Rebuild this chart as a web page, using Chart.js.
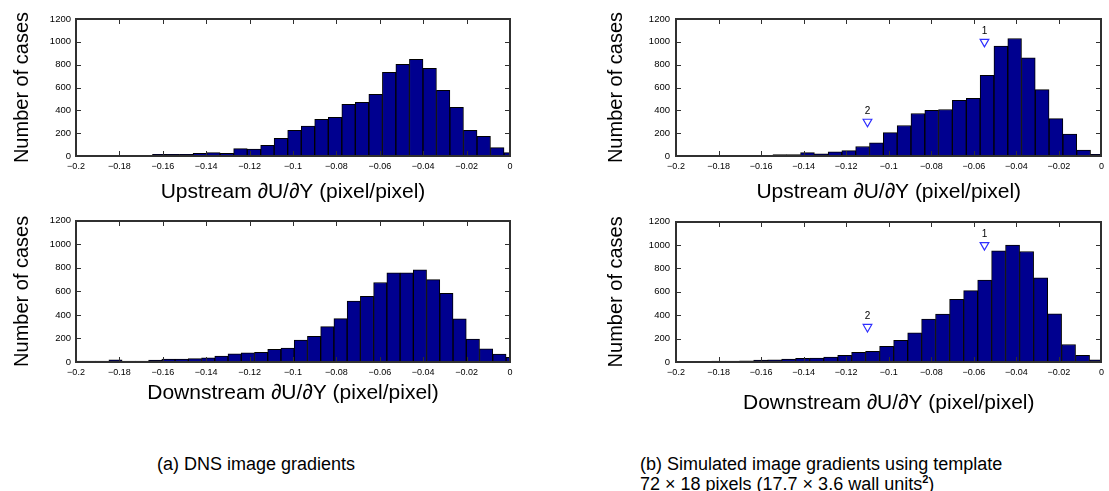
<!DOCTYPE html>
<html>
<head>
<meta charset="utf-8">
<script src="https://cdn.jsdelivr.net/npm/chart.js@4.4.1/dist/chart.umd.min.js"></script>
<style>
  html, body { margin:0; padding:0; background:#fff; width:1109px; height:491px; overflow:hidden; }
  canvas { position:absolute; }
  .cap { position:absolute; font-family:"Liberation Sans", Arial, sans-serif; font-size:18px; color:#000; white-space:nowrap; line-height:20px; }
  sup { font-size:11px; font-weight:bold; line-height:0; }
</style>
</head>
<body>
<canvas id="c1" width="560" height="210" style="left:0;top:0"></canvas>
<canvas id="c2" width="560" height="220" style="left:0;top:210px"></canvas>
<canvas id="c3" width="549" height="210" style="left:560px;top:0"></canvas>
<canvas id="c4" width="549" height="220" style="left:560px;top:210px"></canvas>
<div class="cap" style="left:157px;top:454px">(a) DNS image gradients</div>
<div class="cap" style="left:640px;top:454px">(b) Simulated image gradients using template<br>72 × 18 pixels (17.7 × 3.6 wall units<sup>2</sup>)</div>
<script>
// ---- data ----
const xTicks = [-0.2, -0.18, -0.16, -0.14, -0.12, -0.1, -0.08, -0.06, -0.04, -0.02, 0];
const xTickLabels = ['\u22120.2','\u22120.18','\u22120.16','\u22120.14','\u22120.12','\u22120.1','\u22120.08','\u22120.06','\u22120.04','\u22120.02','0'];
const yTicks = [0, 200, 400, 600, 800, 1000, 1200];
const yTickLabels = ['0','200','400','600','800','1000','1200'];

// (a) DNS, upstream
const dnsUpCenters = [-0.1990,-0.1928,-0.1866,-0.1803,-0.1741,-0.1679,-0.1616,-0.1554,-0.1492,-0.1429,-0.1367,-0.1305,-0.1242,-0.1180,-0.1118,-0.1056,-0.0993,-0.0931,-0.0869,-0.0806,-0.0744,-0.0682,-0.0619,-0.0557,-0.0495,-0.0432,-0.0370,-0.0308,-0.0246,-0.0183,-0.0121,-0.0059,0.0004];
const dnsUpCounts = [4,3,5,3,2,3,15,15,15,23,29,23,64,61,93,155,225,263,321,339,453,470,540,733,803,847,768,575,426,225,172,73,29];

// (a) DNS, downstream
const dnsDownCenters = [-0.2000,-0.1940,-0.1879,-0.1818,-0.1757,-0.1696,-0.1635,-0.1574,-0.1513,-0.1452,-0.1391,-0.1330,-0.1269,-0.1208,-0.1147,-0.1086,-0.1025,-0.0964,-0.0903,-0.0842,-0.0781,-0.0720,-0.0659,-0.0598,-0.0537,-0.0476,-0.0415,-0.0354,-0.0293,-0.0232,-0.0171,-0.0110,-0.0049,0.0013];
const dnsDownCounts = [8,8,8,19,8,8,17,25,25,28,36,50,69,78,83,108,119,186,217,300,369,517,558,675,758,758,783,700,583,367,194,111,67,39];

// (b) simulated, upstream
const simUpCenters = [-0.1966,-0.1901,-0.1836,-0.1771,-0.1706,-0.1642,-0.1577,-0.1512,-0.1447,-0.1382,-0.1317,-0.1253,-0.1188,-0.1123,-0.1058,-0.0993,-0.0928,-0.0863,-0.0798,-0.0734,-0.0668,-0.0603,-0.0538,-0.0473,-0.0408,-0.0344,-0.0279,-0.0214,-0.0149,-0.0084,-0.0019];
const simUpCounts = [3,3,3,3,3,4,4,12,13,30,20,37,47,83,115,205,267,372,401,407,488,506,706,962,1029,860,581,328,192,52,15];

// (b) simulated, downstream
const simDownCenters = [-0.1997,-0.1931,-0.1865,-0.1799,-0.1734,-0.1668,-0.1602,-0.1536,-0.1471,-0.1405,-0.1339,-0.1273,-0.1207,-0.1142,-0.1076,-0.1010,-0.0944,-0.0878,-0.0813,-0.0747,-0.0681,-0.0615,-0.0549,-0.0484,-0.0418,-0.0352,-0.0286,-0.0220,-0.0155,-0.0089,-0.0023];
const simDownCounts = [3,3,5,8,8,11,17,18,25,32,34,42,57,83,92,134,185,250,368,410,535,610,700,950,1000,945,720,412,150,58,18];

// markers in (b)
const markerX = [-0.055, -0.11];
const markerY = [1000, 300];
const markerLabels = ['1', '2'];

// ---- drawing ----
Chart.defaults.font.family = '"Liberation Sans", Arial, sans-serif';
Chart.defaults.color = '#000';

const framePlugin = {
  id: 'matlabFrame',
  afterDraw(chart) {
    const ctx = chart.ctx;
    const a = chart.chartArea;
    const xs = chart.scales.x, ys = chart.scales.y;
    const L = Math.round(a.left), R = Math.round(a.right), T = Math.round(a.top), B = Math.round(a.bottom);
    ctx.save();
    ctx.fillStyle = 'rgb(48,48,48)';
    // axes box
    ctx.fillRect(L - 1, T - 1, R - L + 2, 2);
    ctx.fillRect(L - 1, B - 1, R - L + 2, 2);
    ctx.fillRect(L - 1, T - 1, 2, B - T + 2);
    ctx.fillRect(R - 1, T - 1, 2, B - T + 2);
    // inward tick marks
    xTicks.forEach(v => {
      const px = Math.round(xs.getPixelForValue(v));
      ctx.fillRect(px, B - 5, 1, 4);
      ctx.fillRect(px, T + 1, 1, 4);
    });
    yTicks.forEach(v => {
      const py = Math.round(ys.getPixelForValue(v));
      ctx.fillRect(L + 1, py, 4, 1);
      ctx.fillRect(R - 5, py, 4, 1);
    });
    // marker labels
    chart.data.datasets.forEach((ds, di) => {
      if (ds.type !== 'scatter') return;
      const meta = chart.getDatasetMeta(di);
      ctx.fillStyle = '#000';
      ctx.font = '10px "Liberation Sans", Arial, sans-serif';
      ctx.textAlign = 'center';
      ctx.textBaseline = 'middle';
      meta.data.forEach((pt, i) => ctx.fillText(ds.labels[i], pt.x, pt.y - 11));
    });
    ctx.restore();
  }
};

function makePanel(id, centers, counts, cfg) {
  const datasets = [{
    type: 'bar',
    data: centers.map((c, i) => ({x: c, y: counts[i]})),
    backgroundColor: '#00008F',
    borderColor: '#000',
    borderWidth: 1,
    borderSkipped: 'start',
    barThickness: 'flex',
    barPercentage: 1,
    categoryPercentage: 1,
    clip: 0
  }];
  if (cfg.markers) {
    datasets.push({
      type: 'scatter',
      data: markerX.map((mx, i) => ({x: mx, y: markerY[i]})),
      labels: markerLabels,
      pointStyle: 'triangle',
      rotation: 180,
      radius: 5,
      borderColor: '#2f2fff',
      backgroundColor: 'rgba(0,0,0,0)',
      borderWidth: 1.2
    });
  }
  new Chart(document.getElementById(id), {
    type: 'bar',
    data: {datasets},
    plugins: [framePlugin],
    options: {
      responsive: false,
      animation: false,
      events: [],
      layout: {padding: {top: cfg.padTop, left: 0, right: cfg.padRight, bottom: 0}},
      plugins: {legend: {display: false}, tooltip: {enabled: false}},
      scales: {
        x: {
          type: 'linear', min: -0.2, max: 0, offset: false,
          grid: {display: false, drawTicks: false, offset: false},
          border: {display: false},
          afterBuildTicks: s => { s.ticks = xTicks.map(v => ({value: v})); },
          afterFit: s => { s.height = cfg.xHeight; },
          ticks: {
            font: {size: 9}, padding: 5, maxRotation: 0, autoSkip: false,
            callback: (v, i) => xTickLabels[i]
          },
          title: {display: true, text: cfg.xTitle, font: {size: 21}, padding: {top: 0, bottom: cfg.xTitlePad}}
        },
        y: {
          min: 0, max: 1200,
          grid: {display: false, drawTicks: false},
          border: {display: false},
          afterBuildTicks: s => { s.ticks = yTicks.map(v => ({value: v})); },
          afterFit: s => { s.width = cfg.yWidth; },
          ticks: {font: {size: 9.5}, padding: cfg.yTickPad, callback: (v, i) => yTickLabels[i]},
          title: {display: true, text: 'Number of cases', font: {size: 20}, padding: {top: cfg.yTitlePad, bottom: 0}}
        }
      }
    }
  });
}

makePanel('c1', dnsUpCenters, dnsUpCounts, {padTop: 19, padRight: 50, xHeight: 54, xTitlePad: 5, yWidth: 76, yTickPad: 5, yTitlePad: 10, xTitle: 'Upstream \u2202U/\u2202Y (pixel/pixel)'});
makePanel('c2', dnsDownCenters, dnsDownCounts, {padTop: 9, padRight: 50, xHeight: 68, xTitlePad: 24, yWidth: 76, yTickPad: 5, yTitlePad: 10, xTitle: 'Downstream \u2202U/\u2202Y (pixel/pixel)'});
makePanel('c3', simUpCenters, simUpCounts, {padTop: 19, padRight: 3, xHeight: 54, xTitlePad: 5, yWidth: 116, yTickPad: 6, yTitlePad: 44, xTitle: 'Upstream \u2202U/\u2202Y (pixel/pixel)', markers: true});
makePanel('c4', simDownCenters, simDownCounts, {padTop: 9, padRight: 3, xHeight: 68, xTitlePad: 14, yWidth: 116, yTickPad: 6, yTitlePad: 44, xTitle: 'Downstream \u2202U/\u2202Y (pixel/pixel)', markers: true});
</script>
</body>
</html>
